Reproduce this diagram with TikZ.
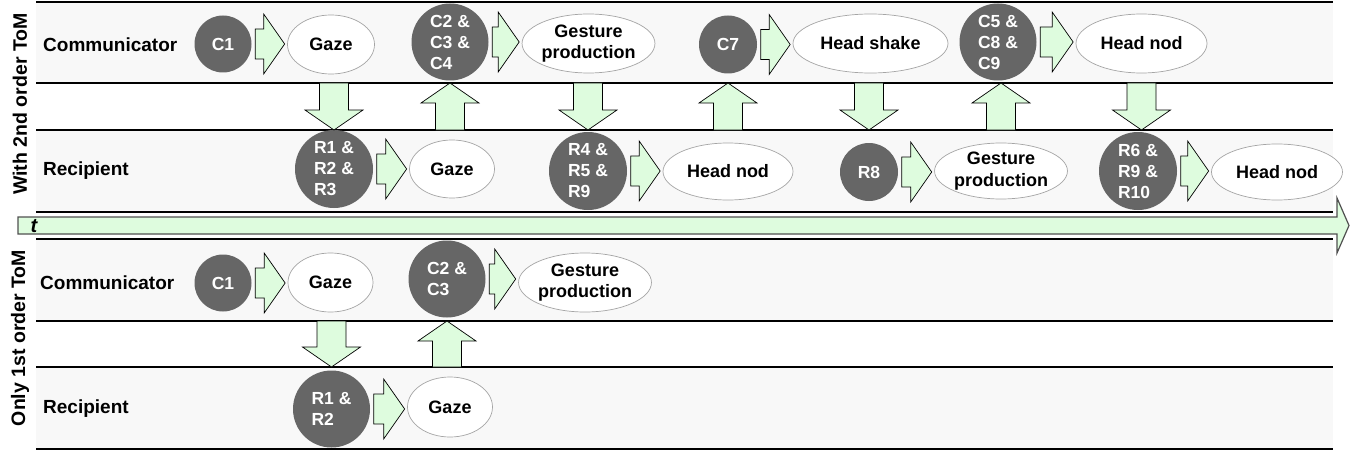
\documentclass[tikz,border=0pt]{standalone}
\usepackage{fontspec}
\setmainfont{Liberation Sans}
\usetikzlibrary{calc,shapes.geometric}
\definecolor{bandgrey}{RGB}{248,248,248}
\definecolor{circgrey}{RGB}{102,102,102}
\definecolor{arrowgreen}{RGB}{222,252,222}
\definecolor{ellline}{RGB}{165,165,165}
\definecolor{tline}{RGB}{80,80,80}
\tikzset{
  band/.style={fill=bandgrey, draw=none},
  sepline/.style={line width=1.2pt, draw=black},
  circ/.style={circle, fill=circgrey, draw=none, inner sep=0pt, text=white,
    font=\bfseries\fontsize{17.5}{21}\selectfont, align=left},
  ell/.style={ellipse, draw=ellline, line width=0.7pt, fill=white, inner sep=0pt,
    font=\bfseries\fontsize{18}{21.5}\selectfont, align=center},
  rowlabel/.style={font=\bfseries\fontsize{19}{22}\selectfont, anchor=west, inner sep=0pt},
  sidelabel/.style={font=\bfseries\fontsize{19.5}{22}\selectfont, rotate=90, inner sep=0pt},
  blockarrow/.style={fill=arrowgreen, draw=black, line width=0.7pt, line join=miter},
  timearrow/.style={fill=arrowgreen, draw=tline, line width=1.2pt, line join=miter},
}
% #1 style, #2 tail, #3 tip, #4 body half width, #5 head half width, #6 head length
\newcommand{\blockarr}[6]{%
  \coordinate (ba-h) at ($(#3)!#6!(#2)$);
  \draw[#1] ($(#2)!#4!90:(#3)$) -- ($(ba-h)!#4!90:(#3)$) -- ($(ba-h)!#5!90:(#3)$)
    -- (#3) -- ($(ba-h)!#5!-90:(#3)$) -- ($(ba-h)!#4!-90:(#3)$)
    -- ($(#2)!#4!-90:(#3)$) -- cycle;}
% horizontal arrow between two nodes
\newcommand{\harrow}[2]{%
  \coordinate (hs) at ([xshift=3.5pt]#1.east);
  \coordinate (ht0) at ([xshift=-2.5pt]#2.west);
  \coordinate (ht) at (ht0 |- hs);
  \blockarr{blockarrow}{hs}{ht}{15pt}{30pt}{21pt}}
% vertical arrow at x of node #1 from line #2 to line #3
\newcommand{\varrow}[3]{%
  \coordinate (vs) at (#1 |- #2);
  \coordinate (vt) at (#1 |- #3);
  \blockarr{blockarrow}{vs}{vt}{14.5pt}{29pt}{20pt}}
\begin{document}
\begin{tikzpicture}[x=1pt,y=-1pt]
\useasboundingbox (0,0) rectangle (1355,452);
% bands
\fill[band] (36,2) rectangle (1333,83);
\fill[band] (36,130) rectangle (1333,212);
\fill[band] (36,239) rectangle (1333,321);
\fill[band] (36,367) rectangle (1333,449);
% line coordinates
\coordinate (L0) at (36,2);
\coordinate (L1) at (36,83);
\coordinate (L2) at (36,130);
\coordinate (L3) at (36,212);
\coordinate (L4) at (36,239);
\coordinate (L5) at (36,321);
\coordinate (L6) at (36,367);
\coordinate (L7) at (36,449);
\foreach \l in {L0,L1,L2,L3,L4,L5,L6,L7}{
  \draw[sepline] (\l) -- ++(1297,0);
}
% time arrow
\coordinate (tstart) at (18,225.5);
\coordinate (tend) at (1349,225.5);
\blockarr{timearrow}{tstart}{tend}{8.5pt}{27.5pt}{12pt}
\node[font=\bfseries\itshape\fontsize{20}{20}\selectfont, inner sep=0pt] (tl) at (34,226) {t};
% side labels
\node[sidelabel] (side1) at (20,104) {With 2nd order ToM};
\node[sidelabel] (side2) at (20,338) {Only 1st order ToM};
% row labels
\node[rowlabel] (comm1) at (43,45) {Communicator};
\node[rowlabel] (rec1) at (43,171) {Recipient};
\node[rowlabel] (comm2) at (40,283) {Communicator};
\node[rowlabel] (rec2) at (43,409) {Recipient};
% upper communicator row
\node[circ, minimum size=57pt] (C1u) at (223,44) {C1};
\node[ell, minimum width=87pt, minimum height=59pt] (G1u) at (331,44.5) {Gaze};
\node[circ, minimum size=77pt] (C234) at (450,42) {C2 \&\\C3 \&\\C4};
\node[ell, minimum width=131pt, minimum height=59pt] (GP1u) at (588.5,43.5) {Gesture\\production};
\node[circ, minimum size=58pt] (C7) at (728,44.5) {C7};
\node[ell, minimum width=155pt, minimum height=59pt] (HS) at (870.5,43.5) {Head shake};
\node[circ, minimum size=77pt] (C589) at (998,42) {C5 \&\\C8 \&\\C9};
\node[ell, minimum width=131pt, minimum height=59pt] (HN1) at (1141.5,43.5) {Head nod};
% upper recipient row
\node[circ, minimum size=78pt] (R123) at (334,169) {R1 \&\\R2 \&\\R3};
\node[ell, minimum width=85pt, minimum height=58pt] (G2u) at (452,169) {Gaze};
\node[circ, minimum size=78pt] (R459) at (588,171) {R4 \&\\R5 \&\\R9};
\node[ell, minimum width=130pt, minimum height=57pt] (HN2) at (728,171.5) {Head nod};
\node[circ, minimum size=58pt] (R8) at (869,172) {R8};
\node[ell, minimum width=132pt, minimum height=56pt] (GP2) at (1001,171) {Gesture\\production};
\node[circ, minimum size=78pt] (R6910) at (1138,171) {R6 \&\\R9 \&\\R10};
\node[ell, minimum width=131pt, minimum height=56pt] (HN3) at (1277,172) {Head nod};
% upper horizontal arrows
\harrow{C1u}{G1u}
\harrow{C234}{GP1u}
\harrow{C7}{HS}
\harrow{C589}{HN1}
\harrow{R123}{G2u}
\harrow{R459}{HN2}
\harrow{R8}{GP2}
\harrow{R6910}{HN3}
% upper vertical arrows
\varrow{R123}{L1}{L2}
\varrow{C234}{L2}{L1}
\varrow{R459}{L1}{L2}
\varrow{C7}{L2}{L1}
\varrow{R8}{L1}{L2}
\varrow{GP2}{L2}{L1}
\varrow{HN1}{L1}{L2}
% lower communicator row
\node[circ, minimum size=57pt] (C1l) at (223,283) {C1};
\node[ell, minimum width=85pt, minimum height=59pt] (G1l) at (330.5,282.5) {Gaze};
\node[circ, minimum size=77pt] (C23) at (447,279) {C2 \&\\C3};
\node[ell, minimum width=131pt, minimum height=59pt] (GP1l) at (585,282.5) {Gesture\\production};
% lower recipient row
\node[circ, minimum size=77pt] (R12) at (331.5,409) {R1 \&\\R2};
\node[ell, minimum width=85pt, minimum height=60pt] (G2l) at (450,407) {Gaze};
\harrow{C1l}{G1l}
\harrow{C23}{GP1l}
\harrow{R12}{G2l}
\varrow{R12}{L5}{L6}
\varrow{C23}{L6}{L5}
\end{tikzpicture}
\end{document}
